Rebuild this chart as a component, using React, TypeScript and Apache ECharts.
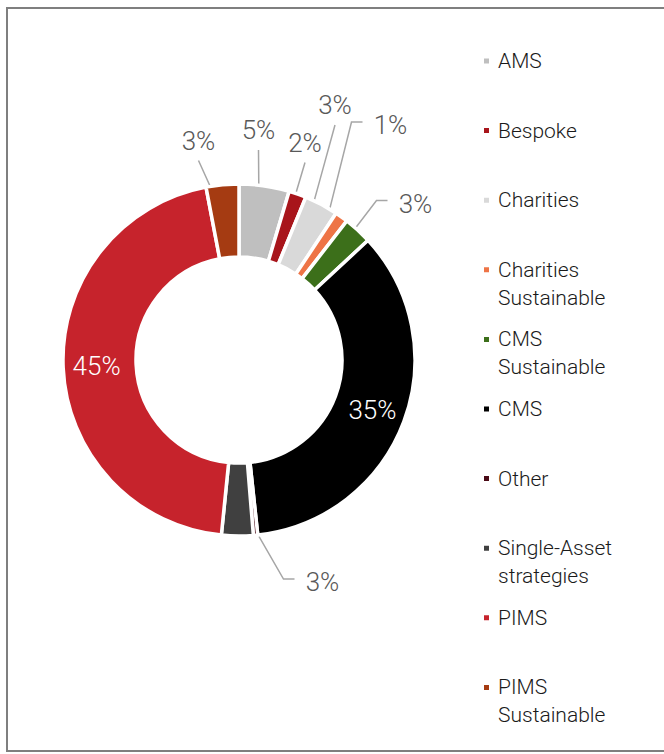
import React, { useEffect, useRef } from 'react';
import * as echarts from 'echarts';

const categories = [
  'AMS',
  'Bespoke',
  'Charities',
  'Charities Sustainable',
  'CMS Sustainable',
  'CMS',
  'Other',
  'Single-Asset strategies',
  'PIMS',
  'PIMS Sustainable',
];
const shares = [4.6, 1.6, 3.1, 1.2, 2.6, 35.2, 0.4, 2.9, 45.4, 3.0];
const colors = [
  '#bfbfbf', '#a8151b', '#d9d9d9', '#ee7446', '#3c6f1a',
  '#000000', '#4a0a16', '#404040', '#c6232c', '#a53b12',
];

// label placement mode per slice: inside the ring, hidden, or a callout
const labelModes = ['top', 'top', 'top', 'right', 'right', 'in', 'none', 'right', 'in', 'top'];
// callout label centre, offset from the pie centre
const labelOffsets: ([number, number] | null)[] = [
  [19.5, -230], [66, -217.5], [96, -255], [151.5, -235], [176.5, -156.5],
  null, null, [83.5, 222], null, [-40.5, -219.5],
];

const CX = 239;
const CY = 360;
const R_IN = 103;
const R_OUT = 176;
const R_MID = 139.5;

export default function App() {
  const ref = useRef<HTMLDivElement>(null);
  useEffect(() => {
    if (!ref.current) return;
    const chart = echarts.init(ref.current, null, { renderer: 'svg' });
    const total = shares.reduce((a, b) => a + b, 0);
    const midAngles: number[] = [];
    let acc = 0;
    shares.forEach((v) => {
      midAngles.push(((acc + v / 2) / total) * 360);
      acc += v;
    });
    const font = 'Roboto, "Helvetica Neue", Arial, sans-serif';
    chart.setOption({
      animation: false,
      backgroundColor: '#ffffff',
      graphic: [
        {
          type: 'polyline',
          shape: { points: [[700, 8], [7, 8], [7, 751], [700, 751]] },
          style: { fill: 'none', stroke: '#7f7f7f', lineWidth: 2 },
          silent: true,
        },
      ],
      legend: {
        orient: 'vertical',
        align: 'left',
        left: 482,
        top: 19,
        padding: 0,
        itemWidth: 7,
        itemHeight: 7,
        itemGap: -14.4,
        icon: 'rect',
        selectedMode: false,
        data: categories,
        formatter: (n: string) =>
          n.indexOf(' ') >= 0 ? '\n' + n.replace(' ', '\n') : '\n' + n + '\n',
        textStyle: {
          fontFamily: font,
          fontWeight: 300,
          fontSize: 21,
          lineHeight: 28,
          color: '#1a1a1a',
          padding: [0, 0, 0, 3],
        },
      },
      series: [
        {
          type: 'pie',
          center: [CX, CY],
          radius: [R_IN, R_OUT],
          startAngle: 90,
          clockwise: true,
          avoidLabelOverlap: false,
          itemStyle: { borderColor: '#ffffff', borderWidth: 3.5 },
          label: {
            show: true,
            position: 'outside',
            fontFamily: font,
            fontWeight: 300,
            fontSize: 26,
            color: '#595959',
            formatter: (p: any) => Math.round(p.percent) + '%',
          },
          labelLine: {
            show: true,
            lineStyle: { color: '#a6a6a6', width: 1.5 },
          },
          labelLayout: (p: any) => {
            const i = p.dataIndex;
            const off = labelOffsets[i];
            if (!off) return {};
            const lx = CX + off[0];
            const ly = CY + off[1];
            const a = (midAngles[i] * Math.PI) / 180;
            const sx = CX + R_MID * Math.sin(a);
            const sy = CY - R_MID * Math.cos(a);
            let pts: number[][];
            if (labelModes[i] === 'top') {
              const ex = lx;
              const ey = ly + 20;
              pts = [[sx, sy], [(sx + ex) / 2, (sy + ey) / 2], [ex, ey]];
            } else {
              const ey = ly - 3;
              pts = [[sx, sy], [lx - 39, ey], [lx - 28, ey]];
            }
            return {
              x: lx,
              y: ly,
              align: 'center',
              verticalAlign: 'middle',
              labelLinePoints: pts,
            };
          },
          data: categories.map((name, i) => {
            const mode = labelModes[i];
            const item: any = { name, value: shares[i], itemStyle: { color: colors[i] } };
            if (mode === 'in') {
              item.label = { position: 'inside', color: '#ffffff' };
              item.labelLine = { show: false };
            } else if (mode === 'none') {
              item.label = { show: false };
              item.labelLine = { show: false };
            }
            return item;
          }),
        },
      ],
    });
    return () => chart.dispose();
  }, []);
  return (
    <div
      ref={ref}
      style={{ position: 'absolute', left: 0, top: 0, width: 664, height: 754 }}
    />
  );
}
